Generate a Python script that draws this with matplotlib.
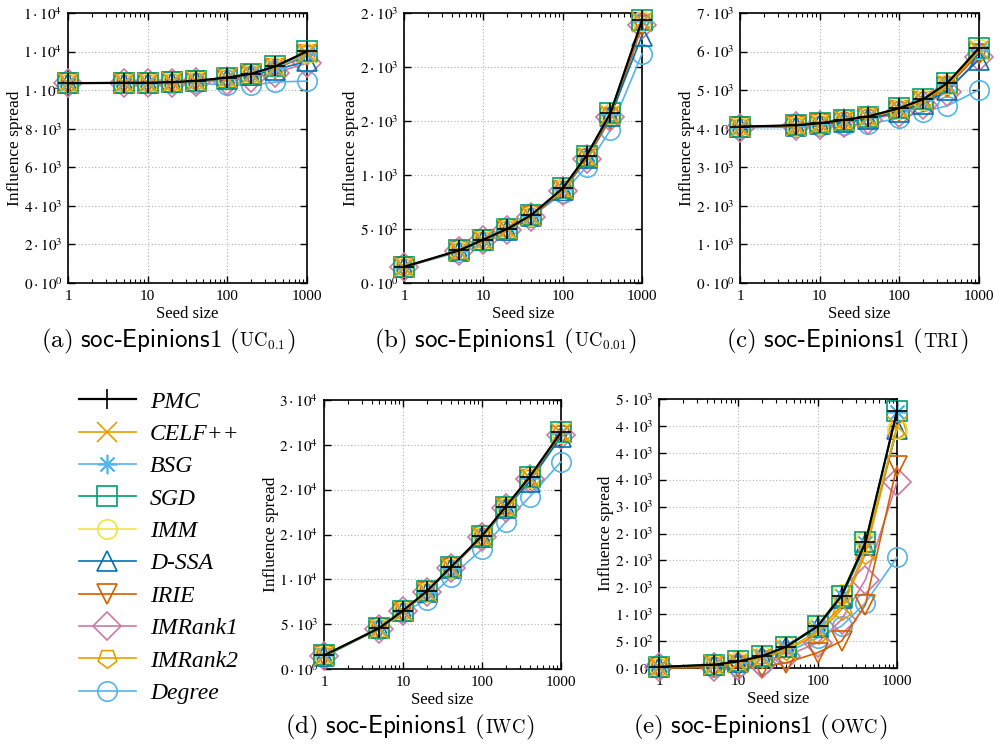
import matplotlib
matplotlib.use("Agg")
import matplotlib.pyplot as plt
from matplotlib.ticker import FixedLocator, FixedFormatter, LogLocator, NullFormatter

# seed sizes
seeds = [1, 5, 10, 20, 40, 100, 200, 400, 1000]

methods = ["PMC", "CELF++", "BSG", "SGD", "IMM", "D-SSA", "IRIE", "IMRank1", "IMRank2", "Degree"]
colors = ["black", "#E69F00", "#56B4E9", "#009E73", "#F0E442", "#0072B2", "#D55E00", "#CC79A7", "#E69F00", "#56B4E9"]
markers = ["+", "x", (8, 2, 0), "s", "o", "^", "v", "D", (5, 0, 180), "o"]

# (a) UC 0.1
uc01 = {
    "PMC":     [10360, 10380, 10380, 10410, 10480, 10650, 10850, 11230, 12010],
    "CELF++":  [10360, 10380, 10380, 10410, 10470, 10640, 10840, 11200, 11950],
    "BSG":     [10360, 10380, 10380, 10410, 10470, 10630, 10820, 11150, 11850],
    "SGD":     [10360, 10380, 10380, 10410, 10480, 10650, 10850, 11230, 12010],
    "IMM":     [10360, 10380, 10380, 10410, 10470, 10640, 10840, 11200, 11950],
    "D-SSA":   [10360, 10370, 10370, 10400, 10460, 10600, 10780, 11050, 11500],
    "IRIE":    [10360, 10370, 10370, 10400, 10450, 10600, 10780, 11100, 11800],
    "IMRank1": [10360, 10360, 10360, 10380, 10420, 10500, 10650, 10900, 11400],
    "IMRank2": [10360, 10380, 10380, 10410, 10470, 10630, 10830, 11180, 11900],
    "Degree":  [10360, 10360, 10360, 10370, 10380, 10250, 10260, 10420, 10470],
}
# (b) UC 0.01
uc001 = {
    "PMC":     [150, 303, 402, 501, 628, 876, 1179, 1572, 2432],
    "CELF++":  [148, 300, 400, 498, 625, 870, 1170, 1560, 2420],
    "BSG":     [148, 300, 400, 498, 625, 872, 1172, 1565, 2425],
    "SGD":     [150, 303, 402, 501, 628, 876, 1179, 1572, 2432],
    "IMM":     [148, 300, 400, 498, 625, 870, 1172, 1565, 2425],
    "D-SSA":   [148, 300, 398, 495, 620, 862, 1160, 1545, 2290],
    "IRIE":    [148, 298, 395, 490, 612, 850, 1145, 1520, 2380],
    "IMRank1": [148, 298, 395, 492, 615, 855, 1150, 1535, 2390],
    "IMRank2": [148, 300, 400, 496, 622, 868, 1168, 1558, 2415],
    "Degree":  [145, 290, 385, 489, 612, 829, 1077, 1417, 2122],
}
# (c) TRI
tri = {
    "PMC":     [4054, 4089, 4141, 4228, 4314, 4531, 4765, 5181, 6090],
    "CELF++":  [4040, 4075, 4130, 4210, 4300, 4500, 4740, 5130, 6030],
    "BSG":     [4045, 4080, 4135, 4215, 4305, 4510, 4750, 5150, 6050],
    "SGD":     [4054, 4089, 4141, 4228, 4314, 4531, 4765, 5181, 6090],
    "IMM":     [4045, 4080, 4130, 4215, 4300, 4510, 4745, 5150, 6060],
    "D-SSA":   [4040, 4070, 4110, 4180, 4250, 4430, 4650, 5000, 5790],
    "IRIE":    [4035, 4065, 4110, 4180, 4260, 4450, 4680, 5080, 5950],
    "IMRank1": [4030, 4060, 4100, 4160, 4230, 4400, 4620, 4950, 5850],
    "IMRank2": [4040, 4075, 4125, 4205, 4290, 4495, 4735, 5120, 6000],
    "Degree":  [4028, 4035, 4072, 4098, 4124, 4271, 4444, 4592, 5007],
}
# (d) IWC
iwc = {
    "PMC":     [1519, 4556, 6519, 8667, 11333, 14852, 18111, 21407, 26400],
    "CELF++":  [1500, 4500, 6450, 8600, 11250, 14750, 18000, 21300, 26300],
    "BSG":     [1510, 4530, 6500, 8640, 11300, 14800, 18050, 21350, 26350],
    "SGD":     [1519, 4556, 6519, 8667, 11333, 14852, 18111, 21407, 26400],
    "IMM":     [1510, 4530, 6500, 8640, 11300, 14800, 18050, 21350, 26350],
    "D-SSA":   [1500, 4520, 6480, 8600, 11250, 14700, 17900, 20900, 25900],
    "IRIE":    [1480, 4450, 6400, 8550, 11200, 14650, 17850, 21100, 26000],
    "IMRank1": [1490, 4480, 6420, 8580, 11220, 14700, 17950, 21200, 26100],
    "IMRank2": [1500, 4500, 6460, 8600, 11260, 14760, 18000, 21300, 26300],
    "Degree":  [1333, 4481, 6333, 7704, 10222, 13370, 16407, 19185, 23111],
}
# (e) OWC
owc = {
    "PMC":     [20, 62, 123, 222, 395, 778, 1346, 2333, 4777],
    "CELF++":  [15, 50, 100, 190, 340, 680, 1150, 2200, 4500],
    "BSG":     [20, 60, 120, 220, 390, 770, 1340, 2320, 4760],
    "SGD":     [20, 62, 123, 222, 395, 778, 1346, 2333, 4777],
    "IMM":     [25, 65, 130, 230, 410, 800, 1380, 2360, 4450],
    "D-SSA":   [18, 58, 118, 215, 385, 760, 1310, 2280, 4440],
    "IRIE":    [0, 10, 12, 25, 100, 284, 500, 1179, 3755],
    "IMRank1": [10, 20, 40, 70, 222, 470, 900, 1642, 3457],
    "IMRank2": [15, 50, 100, 190, 330, 623, 1086, 2123, 4450],
    "Degree":  [10, 25, 45, 80, 284, 562, 778, 1210, 2055],
}

# y ticks and their (gnuplot-rounded) labels
yt_a = [0, 2000, 4000, 6000, 8000, 10000, 12000, 14000]
yl_a = [(0, 0), (2, 3), (4, 3), (6, 3), (8, 3), (1, 4), (1, 4), (1, 4)]
yt_b = [0, 500, 1000, 1500, 2000, 2500]
yl_b = [(0, 0), (5, 2), (1, 3), (2, 3), (2, 3), (2, 3)]
yt_c = [0, 1000, 2000, 3000, 4000, 5000, 6000, 7000]
yl_c = [(0, 0), (1, 3), (2, 3), (3, 3), (4, 3), (5, 3), (6, 3), (7, 3)]
yt_d = [0, 5000, 10000, 15000, 20000, 25000, 30000]
yl_d = [(0, 0), (5, 3), (1, 4), (2, 4), (2, 4), (2, 4), (3, 4)]
yt_e = [0, 500, 1000, 1500, 2000, 2500, 3000, 3500, 4000, 4500, 5000]
yl_e = [(0, 0), (5, 2), (1, 3), (2, 3), (2, 3), (2, 3), (3, 3), (4, 3), (4, 3), (4, 3), (5, 3)]

xt = [1, 10, 100, 1000]
xl = ["1", "10", "100", "1000"]

plt.rcParams["font.family"] = "serif"
plt.rcParams["font.serif"] = ["Liberation Serif", "DejaVu Serif"]
plt.rcParams["mathtext.fontset"] = "stix"
plt.rcParams["font.size"] = 11

fig = plt.figure(figsize=(10, 7.48), dpi=100)

W, H = 1000.0, 748.0


def make_ax(left, top, right, bottom):
    return fig.add_axes([left / W, 1 - bottom / H, (right - left) / W, (bottom - top) / H])


def draw(ax, data, yt, yl):
    for i in reversed(range(len(methods))):
        m = methods[i]
        ax.plot(seeds, data[m], color=colors[i], marker=markers[i], markersize=14,
                markerfacecolor="none", markeredgewidth=1.2,
                lw=1.6 if m == "PMC" else 1.2, clip_on=False, zorder=3 + (len(methods) - i) * 0.1)
    ax.set_xscale("log")
    ax.set_xlim(1, 1000)
    ax.set_ylim(yt[0], yt[-1])
    ax.xaxis.set_major_locator(FixedLocator(xt))
    ax.xaxis.set_major_formatter(FixedFormatter(xl))
    ax.xaxis.set_minor_locator(LogLocator(base=10, subs=range(2, 10)))
    ax.xaxis.set_minor_formatter(NullFormatter())
    ax.yaxis.set_major_locator(FixedLocator(yt))
    ax.yaxis.set_major_formatter(FixedFormatter([rf"${a}\cdot10^{{{b}}}$" for a, b in yl]))
    ax.tick_params(which="both", direction="in", top=True, right=True, labelsize=11)
    ax.tick_params(which="major", length=5, width=1)
    ax.tick_params(which="minor", length=3, width=0.8)
    ax.tick_params(axis="x", pad=5)
    ax.tick_params(axis="y", pad=4)
    ax.grid(True, which="major", color="#b0b0b0", ls=(0, (1, 2)), lw=0.8)
    for s in ax.spines.values():
        s.set_linewidth(1.2)
    ax.set_xlabel("Seed size", fontsize=12)
    ax.set_ylabel("Influence spread", fontsize=12.5)
    ax.xaxis.set_label_coords(0.5, -0.085)
    ax.yaxis.set_label_coords(-0.19, 0.5)


ax_a = make_ax(68, 13, 307, 283)
ax_b = make_ax(404, 13, 642, 283)
ax_c = make_ax(740, 13, 979, 283)
ax_d = make_ax(324, 400, 561, 669)
ax_e = make_ax(659, 399, 897, 668)

draw(ax_a, uc01, yt_a, yl_a)
draw(ax_b, uc001, yt_b, yl_b)
draw(ax_c, tri, yt_c, yl_c)
draw(ax_d, iwc, yt_d, yl_d)
draw(ax_e, owc, yt_e, yl_e)

# captions
cap = fig.add_axes([0, 0, 1, 1])
cap.axis("off")
cap.set_zorder(-1)
captions = []


def caption(xc, y, letter, model, sub=None):
    p1 = cap.text(0, 1 - y / H, rf"$\mathrm{{({letter})}}\ \mathsf{{soc}}$-$\mathsf{{Epinions1}}\ \mathrm{{(}}$",
                  fontsize=18, va="baseline", ha="left", math_fontfamily="cm")
    sc = rf"$\mathrm{{{model}}}_{{{sub}}}$" if sub else rf"$\mathrm{{{model}}}$"
    p2 = cap.annotate(sc, xy=(1, 1 - y / H), xycoords=(p1, "figure fraction"),
                      fontsize=13.5, va="baseline", ha="left", math_fontfamily="cm")
    p3 = cap.annotate(r"$\mathrm{)}$", xy=(1, 1 - y / H), xycoords=(p2, "figure fraction"),
                      fontsize=18, va="baseline", ha="left", math_fontfamily="cm")
    captions.append((xc, p1, p3))


caption(168, 347, "a", "UC", "0.1")
caption(505, 347, "b", "UC", "0.01")
caption(847, 347, "c", "TRI")
caption(410, 733, "d", "IWC")
caption(760, 733, "e", "OWC")

handles = []
for i, m in enumerate(methods):
    h, = ax_a.plot([], [], color=colors[i], marker=markers[i], markersize=14,
                   markerfacecolor="none", markeredgewidth=1.2, lw=1.6 if m == "PMC" else 1.2)
    handles.append(h)
fig.legend(handles, methods, loc="upper left", bbox_to_anchor=(0.079, 1 - 391 / H),
           frameon=False, prop={"family": "Liberation Serif", "style": "italic", "size": 17},
           handlelength=2.4, handletextpad=0.6, labelspacing=0.46, borderpad=0, borderaxespad=0)

# centre each caption under its panel
fig.canvas.draw()
r = fig.canvas.get_renderer()
for xc, p1, p3 in captions:
    x0 = p1.get_window_extent(r).x0
    x1 = p3.get_window_extent(r).x1
    p1.set_x((xc - (x1 - x0) / 2) / W)

fig.savefig("out.png", dpi=100)
